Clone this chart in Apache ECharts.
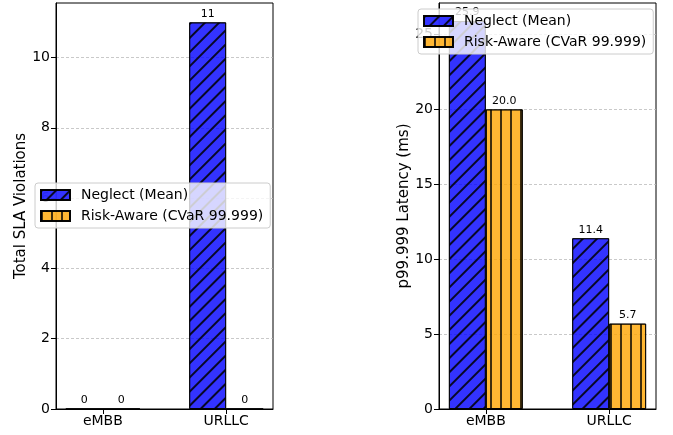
<!DOCTYPE html>
<html>
<head>
<meta charset="utf-8">
<script src="https://cdn.jsdelivr.net/npm/echarts@6/dist/echarts.min.js"></script>
<style>
html,body{margin:0;padding:0;background:#fff;}
#c{width:673px;height:435px;}
</style>
</head>
<body>
<div id="c"></div>
<script>
// ---- data ----
const categories = ['eMBB', 'URLLC'];
const seriesNames = ['Neglect (Mean)', 'Risk-Aware (CVaR 99.999)'];
const violationsNeglect = [0, 11];
const violationsRisk = [0, 0];
const latencyNeglect = [25.9, 11.4];
const latencyRisk = [20.0, 5.7];
const leftTicks = [0, 2, 4, 6, 8, 10];
const rightTicks = [0, 5, 10, 15, 20, 25];
const leftYName = 'Total SLA Violations';
const rightYName = 'p99.999 Latency (ms)';

const FONT = 'DejaVu Sans';
const blue = 'rgba(0,0,255,0.8)';
const orange = 'rgba(255,165,0,0.8)';
const decalSlash = {
  symbol: 'rect', symbolSize: 1, color: 'rgba(0,0,0,0.85)',
  dashArrayX: [1, 0], dashArrayY: [1.3, 8], rotation: -Math.PI / 4
};
const decalVert = {
  symbol: 'rect', symbolSize: 1, color: 'rgba(0,0,0,0.75)',
  dashArrayX: [1.4, 7.6], dashArrayY: [1, 0]
};

function toXY(vals) { return categories.map((c, i) => [i, vals[i]]); }

function xAxisFor(gi) {
  return {
    type: 'value', gridIndex: gi, min: -0.38, max: 1.38,
    axisLine: { show: true, onZero: false, lineStyle: { color: '#000', width: 1 } },
    axisTick: { show: true, customValues: [0, 1], length: 5, lineStyle: { color: '#000' } },
    axisLabel: {
      customValues: [0, 1], margin: 5, color: '#000', fontFamily: FONT, fontSize: 14,
      formatter: v => categories[Math.round(v)]
    },
    splitLine: { show: false }
  };
}
function yAxisFor(gi, max, interval, ticks, name, gap) {
  return {
    type: 'value', gridIndex: gi, min: 0, max: max, interval: interval,
    name: name, nameLocation: 'middle', nameGap: gap,
    nameTextStyle: { fontFamily: FONT, fontSize: 15, color: '#000' },
    axisLine: { show: true, onZero: false, lineStyle: { color: '#000', width: 1 } },
    axisTick: { show: true, customValues: ticks, length: 5, lineStyle: { color: '#000' } },
    axisLabel: { customValues: ticks, margin: 6, color: '#000', fontFamily: FONT, fontSize: 14 },
    splitLine: { show: true, lineStyle: { color: '#bbbbbb', type: [3, 2], width: 0.8 } }
  };
}
function bar(name, gi, vals, color, decal, fmt) {
  return {
    type: 'bar', name: name, xAxisIndex: gi, yAxisIndex: gi,
    data: toXY(vals), barWidth: '30%', barGap: '0%',
    itemStyle: { color: color, borderColor: 'rgba(0,0,0,0.85)', borderWidth: 1, decal: decal },
    label: {
      show: true, position: 'top', distance: 3, color: '#000', fontFamily: FONT, fontSize: 11,
      formatter: p => fmt(p.value[1])
    }
  };
}
function legendAt(left, top) {
  return {
    data: seriesNames, orient: 'vertical', left: left, top: top,
    icon: 'rect', itemWidth: 29, itemHeight: 10, itemGap: 5,
    padding: [4, 7, 4, 5],
    backgroundColor: 'rgba(255,255,255,0.8)', borderColor: '#cccccc', borderWidth: 1, borderRadius: 3,
    textStyle: { fontFamily: FONT, fontSize: 14, color: '#000', lineHeight: 16, padding: [0, 0, 0, 6] },
    selectedMode: false
  };
}

const chart = echarts.init(document.getElementById('c'), null, { renderer: 'canvas' });
chart.setOption({
  animation: false,
  backgroundColor: '#fff',
  grid: [
    { left: 56, top: 3, width: 217, height: 406, show: true, borderColor: '#000', borderWidth: 1 },
    { left: 439, top: 3, width: 217, height: 406, show: true, borderColor: '#000', borderWidth: 1 }
  ],
  xAxis: [xAxisFor(0), xAxisFor(1)],
  yAxis: [
    yAxisFor(0, 11.55, 2, leftTicks, leftYName, 27),
    yAxisFor(1, 27.1, 5, rightTicks, rightYName, 25)
  ],
  legend: [legendAt(35, 183), legendAt(418, 9)],
  series: [
    bar(seriesNames[0], 0, violationsNeglect, blue, decalSlash, v => String(Math.round(v))),
    bar(seriesNames[1], 0, violationsRisk, orange, decalVert, v => String(Math.round(v))),
    bar(seriesNames[0], 1, latencyNeglect, blue, decalSlash, v => v.toFixed(1)),
    bar(seriesNames[1], 1, latencyRisk, orange, decalVert, v => v.toFixed(1))
  ]
});
</script>
</body>
</html>
